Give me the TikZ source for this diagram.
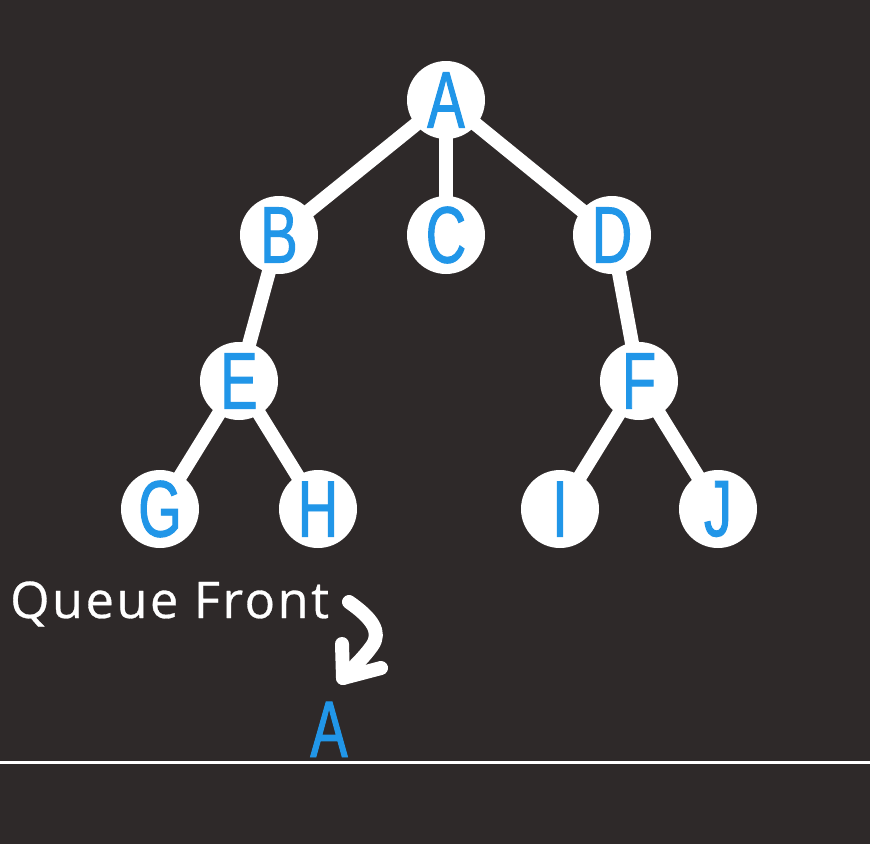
\documentclass[tikz,border=0pt]{standalone}
\usepackage{fontspec}
\setmainfont{Liberation Sans}
\newfontfamily\letterfont[FakeStretch=0.7,FakeBold=1.2]{Liberation Sans}
\newfontfamily\labelfont[LetterSpace=5,FakeBold=0.6]{Open Sans}
\definecolor{bgc}{RGB}{46,41,41}
\definecolor{nodeblue}{RGB}{33,150,232}
\pgfdeclarelayer{bglayer}
\pgfdeclarelayer{edgelayer}
\pgfsetlayers{bglayer,edgelayer,main}
\begin{document}
\begin{tikzpicture}[x=1pt,y=-1pt,
  vert/.style={circle,fill=white,minimum size=78pt,inner sep=0pt,text=nodeblue,font=\letterfont\fontsize{80}{80}\selectfont},
  edge/.style={white,line width=14pt},
  qlabel/.style={text=white,font=\labelfont\fontsize{50.5}{50.5}\selectfont,anchor=base west,inner sep=0pt}]
\begin{pgfonlayer}{bglayer}
\fill[bgc] (0,0) rectangle (870,844);
\end{pgfonlayer}
\useasboundingbox (0,0) rectangle (870,844);
\node[vert] (A) at (446,100) {A};
\node[vert] (B) at (279,235) {B};
\node[vert] (C) at (446,235) {C};
\node[vert] (D) at (612,235) {D};
\node[vert] (E) at (239,381) {E};
\node[vert] (F) at (639,381) {F};
\node[vert] (G) at (160,509) {G};
\node[vert] (H) at (318,509) {H};
\node[vert] (I) at (560,509) {I};
\node[vert] (J) at (718,509) {J};
\begin{pgfonlayer}{edgelayer}
\draw[edge] (A.center) -- (B.center);
\draw[edge] (A.center) -- (C.center);
\draw[edge] (A.center) -- (D.center);
\draw[edge] (B.center) -- (E.center);
\draw[edge] (D.center) -- (F.center);
\draw[edge] (E.center) -- (G.center);
\draw[edge] (E.center) -- (H.center);
\draw[edge] (F.center) -- (I.center);
\draw[edge] (F.center) -- (J.center);
\end{pgfonlayer}
\node[qlabel] (q) at (10,618) {Queue Front};
\node[text=nodeblue,font=\letterfont\fontsize{80}{80}\selectfont,inner sep=0pt,anchor=base] (qa) at (329,757) {A};
\coordinate (l1) at (0,762);
\coordinate (l2) at (870,762);
\draw[white,line width=3pt] (l1) -- (l2);
\coordinate (s) at (349,602);
\coordinate (t) at (343,678);
\coordinate (h1) at (342,644);
\coordinate (h2) at (381,668);
\draw[white,line width=14pt,line cap=round,line join=round] (s) .. controls (372,618) and (382,632) .. (372,646) .. controls (362,660) and (350,670) .. (t);
\draw[white,line width=14pt,line cap=round,line join=round] (h1) -- (t) -- (h2);
\end{tikzpicture}
\end{document}
